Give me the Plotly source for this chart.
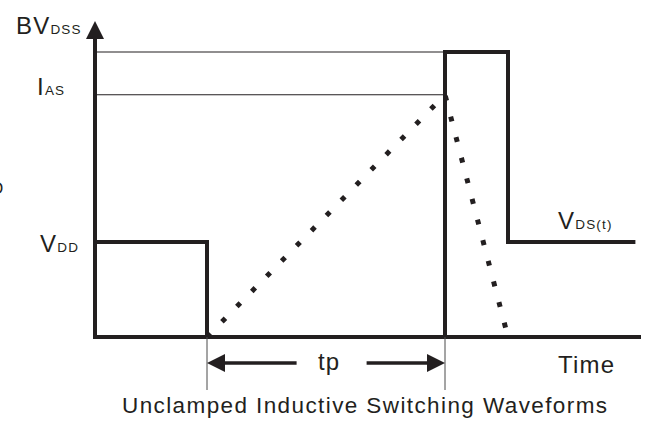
import plotly.graph_objects as go

# ---- waveform data (time in arbitrary units, levels normalised to V_DD = 1) ----
V_DD = 1.0
BV_DSS = 3.0
I_AS = 2.55

# drain-source voltage V_DS(t)
vds_time = [0, 16, 16, 50, 50, 59, 59, 77.2]
vds_level = [V_DD, V_DD, 0, 0, BV_DSS, BV_DSS, V_DD, V_DD]

# avalanche current (ramps up during tp, then decays)
ias_time = [16, 50, 59]
ias_level = [0, I_AS, 0]

# pulse width tp
tp_start, tp_end = 16, 50

# axis extents
time_max = 78.0
level_max = 3.326

INK = "#231f20"
FONT = "Liberation Sans"

fig = go.Figure()

# axes drawn as one L-shaped path
fig.add_trace(go.Scatter(
    x=[0, 0, time_max], y=[level_max - 0.15, 0, 0], mode="lines",
    line=dict(color=INK, width=4), hoverinfo="skip"))
fig.add_trace(go.Scatter(
    x=[0], y=[level_max], mode="markers",
    marker=dict(symbol="arrow-up", size=18, color=INK, line=dict(width=0)),
    hoverinfo="skip"))

# reference levels BV_DSS and I_AS
for lvl in (BV_DSS, I_AS):
    fig.add_trace(go.Scatter(
        x=[0, tp_end], y=[lvl, lvl], mode="lines",
        line=dict(color=INK, width=1.2), hoverinfo="skip"))

# V_DS(t)
fig.add_trace(go.Scatter(
    x=vds_time, y=vds_level, mode="lines",
    line=dict(color=INK, width=4), hoverinfo="skip"))

# I_AS dotted ramp
fig.add_trace(go.Scatter(
    x=ias_time, y=ias_level, mode="lines",
    line=dict(color=INK, width=5, dash="5px,16.3px"), hoverinfo="skip"))

# tp dimension: extension lines, shafts and arrowheads
tp_y = -0.274
ext_bottom = -0.558
for t in (tp_start, tp_end):
    fig.add_trace(go.Scatter(
        x=[t, t], y=[0, ext_bottom], mode="lines",
        line=dict(color="#4a4a4a", width=1), hoverinfo="skip"))

tp_mid = 33.8
tp_gap = 5.0
fig.add_trace(go.Scatter(
    x=[tp_start + 1, tp_mid - tp_gap, None, tp_mid + tp_gap, tp_end - 1],
    y=[tp_y, tp_y, None, tp_y, tp_y], mode="lines",
    line=dict(color=INK, width=3.5), hoverinfo="skip"))
fig.add_trace(go.Scatter(
    x=[tp_start, tp_end], y=[tp_y, tp_y], mode="markers",
    marker=dict(symbol=["arrow-left", "arrow-right"], size=18, color=INK,
                line=dict(width=0)),
    hoverinfo="skip"))


def label(text, x, y, size=24, xanchor="center", spacing=1.2):
    fig.add_annotation(
        x=x, y=y, xref="x", yref="y", showarrow=False,
        xanchor=xanchor, yanchor="middle",
        text=f'<span style="letter-spacing:{spacing}px">{text}</span>',
        font=dict(family=FONT, size=size, color=INK))


SUB = '<span style="font-size:13.5px">{}</span>'

label("BV" + SUB.format("DSS"), -1.6, 3.28, xanchor="right")
label("I" + SUB.format("AS"), -4.0, 2.64, xanchor="right")
label("V" + SUB.format("DD"), -2.0, 0.985, xanchor="right")
label("V" + SUB.format("DS(t)"), 65.8, 1.228, xanchor="left")
label("Time", 65.8, -0.29, xanchor="left")
label("tp", 33.43, -0.255)
label("Unclamped Inductive Switching Waveforms", 38.57, -0.716, size=22.5,
      spacing=1.4)
label("D", -12.86, 1.558, size=17, xanchor="right", spacing=0)

fig.update_layout(
    width=651, height=422, autosize=False,
    margin=dict(l=0, r=0, t=0, b=0),
    paper_bgcolor="white", plot_bgcolor="white",
    showlegend=False,
    xaxis=dict(range=[-95 / 7, 556 / 7], visible=False, fixedrange=True),
    yaxis=dict(range=[-85 / 95, 337 / 95], visible=False, fixedrange=True),
)

fig.write_html("out.html")
